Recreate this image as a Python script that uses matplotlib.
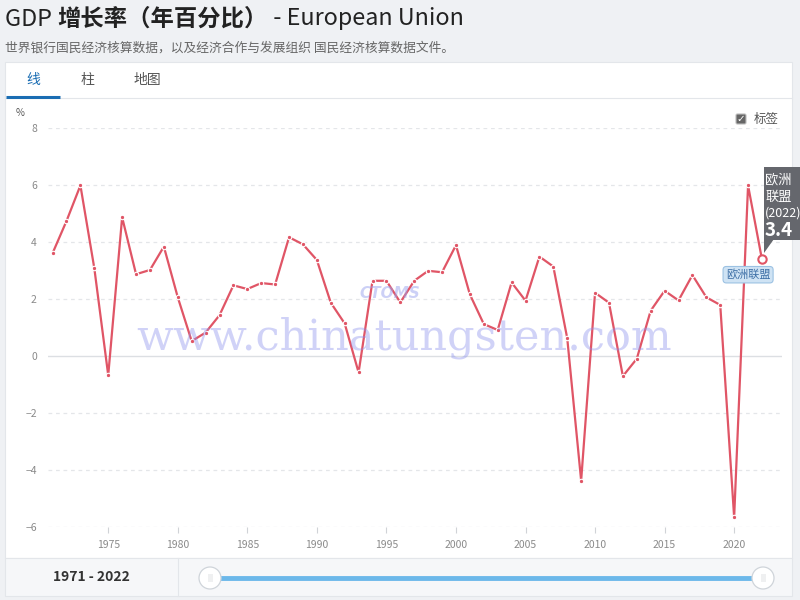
import numpy as np
import matplotlib.pyplot as plt
from matplotlib.patches import Rectangle, FancyBboxPatch, Polygon, Circle

plt.rcParams['font.family'] = ['Noto Sans CJK SC', 'DejaVu Sans']

# 数据
years = list(range(1971, 2023))
gdp = [3.62, 4.75, 6.0, 3.09, -0.67, 4.88, 2.88, 3.03, 3.85, 2.07,
       0.53, 0.83, 1.44, 2.49, 2.36, 2.57, 2.52, 4.18, 3.93, 3.38,
       1.88, 1.15, -0.57, 2.65, 2.65, 1.89, 2.65, 3.0, 2.95, 3.9,
       2.17, 1.13, 0.92, 2.59, 1.95, 3.5, 3.15, 0.63, -4.37, 2.23,
       1.88, -0.70, -0.09, 1.6, 2.3, 1.96, 2.85, 2.07, 1.8, -5.66,
       6.0, 3.4]
yticks = [-6, -4, -2, 0, 2, 4, 6, 8]
xticks = [1975, 1980, 1985, 1990, 1995, 2000, 2005, 2010, 2015, 2020]
title_parts = [('GDP ', 'medium'), ('增长率（年百分比）', 'bold'), (' - European Union', 'normal')]
subtitle = '世界银行国民经济核算数据，以及经济合作与发展组织 国民经济核算数据文件。'
tabs = ['线', '柱', '地图']
series_name = '欧洲联盟'

line_color = '#e05566'

fig = plt.figure(figsize=(8, 6), dpi=100)
fig.patch.set_facecolor('#eff1f4')

# 背景层（像素坐标）
bg = fig.add_axes([0, 0, 1, 1])
bg.set_xlim(0, 800)
bg.set_ylim(600, 0)
bg.axis('off')

bg.add_patch(Rectangle((5, 62), 787, 496, facecolor='white', edgecolor='#e3e6ea', lw=0.8))
bg.add_patch(Rectangle((5, 558), 787, 38, facecolor='#f6f7f9', edgecolor='#e3e6ea', lw=0.8))
bg.plot([178, 178], [558, 596], color='#e3e6ea', lw=0.8)

# 标题（分段）
renderer = fig.canvas.get_renderer()
tx = 5
for part, weight in title_parts:
    t = bg.text(tx, 19, part, fontsize=16.8, color='#222222', va='center', ha='left',
                fontweight=weight)
    bb = t.get_window_extent(renderer=renderer)
    tx += bb.width * 800 / fig.bbox.width
bg.text(5, 48, subtitle, fontsize=9.2, color='#666666', va='center', ha='left')

# 选项卡
bg.plot([5, 792], [98, 98], color='#e3e6ea', lw=0.8)
for name, cx in zip(tabs, [33, 87, 147]):
    bg.text(cx, 80, name, fontsize=10, ha='center', va='center',
            color='#1a6db3' if name == '线' else '#555555')
bg.plot([6, 60], [97, 97], color='#1a6db3', lw=2.2, solid_capstyle='butt')

# 标签复选框
bg.add_patch(FancyBboxPatch((736, 114), 10, 10, boxstyle='round,pad=0,rounding_size=1.5',
                            facecolor='#666666', edgecolor='#bbbbbb', lw=0.8))
bg.text(741, 119.3, '✓', fontsize=7.5, color='white', ha='center', va='center',
        family=['DejaVu Sans'], fontweight='bold')
bg.text(754, 119.5, '标签', fontsize=9, color='#555555', ha='left', va='center')

# 底部滑块
bg.text(91, 577, '1971 - 2022', fontsize=10, fontweight='bold', color='#333333',
        ha='center', va='center')
bg.plot([210, 763], [578, 578], color='#6cb8ea', lw=3.5, solid_capstyle='butt')
for hx in [210, 763]:
    bg.add_patch(Circle((hx, 578), 11, facecolor='white', edgecolor='#cfd4da', lw=0.9, zorder=3))
    bg.text(hx, 578, '|||', fontsize=5, color='#c0c4ca', ha='center', va='center', zorder=4)

bg.text(20, 113, '%', fontsize=7, color='#555555', ha='center', va='center')

# 主图
ax = fig.add_axes([48 / 800, 1 - 527 / 600, (782 - 48) / 800, (527 - 128.5) / 600])
ax.patch.set_alpha(0)
ax.set_xlim(1970.67, 2023.44)
ax.set_ylim(-6, 8)
for s in ax.spines.values():
    s.set_visible(False)

for v in yticks:
    if v == 0:
        ax.axhline(v, color='#dcdfe3', lw=1, zorder=1)
    else:
        ax.axhline(v, color='#e4e6e9', lw=0.9, ls=(0, (3, 3)), zorder=1)

ax.set_yticks(yticks)
ax.set_xticks(xticks)
ax.tick_params(axis='y', length=0, pad=8, labelsize=7.5, labelcolor='#8a8a8a')
ax.tick_params(axis='x', length=4, width=0.8, color='#d0d3d7', pad=5,
               labelsize=7.5, labelcolor='#8a8a8a')

ax.plot(years, gdp, color=line_color, lw=1.6, zorder=3, clip_on=False,
        marker='o', markersize=3.2, markerfacecolor=line_color,
        markeredgecolor='white', markeredgewidth=0.8)
ax.plot(years[-1], gdp[-1], 'o', markersize=6, markerfacecolor='white',
        markeredgecolor=line_color, markeredgewidth=1.5, zorder=5, clip_on=False)

# 数据标签
ax.annotate(series_name, xy=(years[-1], gdp[-1]), xytext=(-10, -11),
            textcoords='offset points', ha='center', va='center', fontsize=8,
            color='#3d6fa6', zorder=6,
            bbox=dict(boxstyle='round,pad=0.25,rounding_size=0.3',
                      facecolor='#cfe3f4', edgecolor='#9cc2e3', lw=0.8))

# 水印
bg2 = fig.add_axes([0, 0, 1, 1])
bg2.set_xlim(0, 800)
bg2.set_ylim(600, 0)
bg2.axis('off')
bg2.patch.set_alpha(0)
bg2.text(404, 338, 'www.chinatungsten.com', fontsize=31, family=['DejaVu Serif'],
         color='#8f95ee', alpha=0.42, ha='center', va='center', zorder=1)
bg2.text(390, 294, 'CTOMS', fontsize=11, fontweight='bold', style='italic',
         family=['DejaVu Sans'], color='#9aa3ee', alpha=0.5, ha='center', va='center')

# 提示框
bg2.add_patch(Rectangle((764, 167), 40, 73, facecolor='#65676d', edgecolor='none', zorder=7))
bg2.add_patch(Polygon([(764, 239), (774, 239), (764, 253)], closed=True,
                      facecolor='#65676d', edgecolor='none', zorder=7))
bg2.text(765, 180, '欧洲', fontsize=9.5, color='white', va='center', ha='left', zorder=8)
bg2.text(765, 197, '联盟', fontsize=9.5, color='white', va='center', ha='left', zorder=8)
bg2.text(765, 213, '(2022)', fontsize=9, color='white', va='center', ha='left', zorder=8)
bg2.text(765, 231, f'{gdp[-1]:.1f}', fontsize=13.5, fontweight='bold', color='white',
         va='center', ha='left', zorder=8)

fig.savefig('out.png', dpi=100, facecolor=fig.get_facecolor())
